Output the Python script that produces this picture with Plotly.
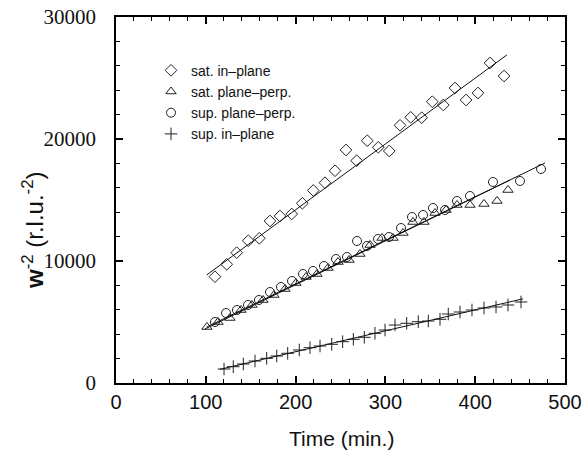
import plotly.graph_objects as go

# ---- data ----
sat_in_t = [110.2, 123.3, 134.4, 147.3, 159.6, 171.5, 182.6, 195.7, 207.5, 219.7, 232.7, 243.9, 256.1, 268.0,
            279.8, 292.1, 304.3, 316.3, 328.2, 340.4, 352.2, 364.5, 377.5, 389.8, 403.1, 416.5, 432.1]
sat_in_w = [8713, 9730, 10681, 11664, 11861, 13279, 13689, 13853, 14730, 15780, 16419, 17402, 19099, 18222,
            19861, 19320, 19017, 21124, 21779, 21747, 23058, 22788, 24181, 23197, 23771, 26230, 25164]

sat_pp_t = [101.3, 113.6, 126.9, 139.2, 151.4, 163.7, 175.9, 188.2, 200.4, 211.6, 223.8, 236.1, 247.2, 259.5,
            271.7, 282.9, 296.2, 308.5, 319.6, 330.7, 343.0, 355.2, 367.5, 379.7, 394.2, 409.8, 424.3, 436.5]
sat_pp_w = [4590, 5000, 5328, 5984, 6394, 6804, 7213, 7705, 8197, 8689, 8935, 9427, 9918, 10082,
            10574, 11312, 11886, 11886, 12296, 13197, 13197, 13935, 14181, 14591, 14591, 14673, 14919, 15820]

sup_pp_t = [110.2, 122.5, 134.7, 147.0, 159.2, 171.5, 183.7, 196.0, 208.2, 219.4, 231.6, 245.0, 257.2, 268.4,
            279.5, 291.8, 304.0, 317.4, 329.6, 341.9, 353.0, 366.4, 379.7, 394.2, 419.8, 449.9, 473.3]
sup_pp_w = [5000, 5738, 5984, 6394, 6804, 7459, 7869, 8361, 8935, 9181, 9590, 10164, 10328, 11640,
            11230, 11804, 11968, 12705, 13607, 13771, 14345, 14181, 14919, 15328, 16476, 16558, 17542]

sup_in_t = [120.3, 130.6, 141.8, 154.8, 167.8, 179.0, 191.2, 204.1, 216.0, 227.2, 240.2, 252.4, 264.3, 276.5,
            288.4, 299.6, 310.7, 323.7, 336.6, 347.8, 360.8, 370.0, 383.1, 396.4, 409.8, 423.2, 436.5, 451.0]
sup_in_w = [1148, 1336, 1557, 1803, 2025, 2213, 2434, 2705, 2894, 3033, 3172, 3385, 3582, 3746,
            4074, 4344, 4754, 4894, 5025, 5082, 5221, 5656, 5820, 5984, 6148, 6230, 6394, 6640]

# straight-line fits, end points
fit_sat_in_t = [101, 435.4]
fit_sat_in_w = [8853, 26900]
fit_sat_pp_t = [99, 438.8]
fit_sat_pp_w = [4426, 16640]
fit_sup_pp_t = [101, 477.7]
fit_sup_pp_w = [4590, 18034]
fit_sup_in_t = [115.8, 453.2]
fit_sup_in_w = [1123, 6900]

legend_labels = ["sat. in–plane", "sat. plane–perp.", "sup. plane–perp.", "sup. in–plane"]
x_ticks = [0, 100, 200, 300, 400, 500]
y_ticks = [0, 10000, 20000, 30000]

series = [
    (sat_in_t, sat_in_w, "diamond-open", legend_labels[0], 9),
    (sat_pp_t, sat_pp_w, "triangle-up-open", legend_labels[1], 9),
    (sup_pp_t, sup_pp_w, "circle-open", legend_labels[2], 9),
    (sup_in_t, sup_in_w, "cross-thin-open", legend_labels[3], 9),
]
fits = [(fit_sat_in_t, fit_sat_in_w), (fit_sat_pp_t, fit_sat_pp_w),
        (fit_sup_pp_t, fit_sup_pp_w), (fit_sup_in_t, fit_sup_in_w)]

fig = go.Figure()
ink = "#222222"
for t, w, sym, name, size in series:
    fig.add_trace(go.Scatter(x=t, y=w, mode="markers", name=name,
                             marker=dict(symbol=sym, size=size, color=ink,
                                         line=dict(width=1, color=ink))))
for ft, fw in fits:
    fig.add_trace(go.Scatter(x=ft, y=fw, mode="lines", showlegend=False,
                             line=dict(color="#111111", width=1), hoverinfo="skip"))

axis_common = dict(showline=True, linecolor="black", linewidth=1.5, mirror="ticks",
                   ticks="inside", tickcolor="black", tickwidth=1.5, ticklen=7,
                   showgrid=False, zeroline=False, automargin=False)

sans = "Liberation Sans, Arial, sans-serif"
fig.update_xaxes(range=[0, 500], tickvals=x_ticks, ticktext=[str(v) for v in x_ticks],
                 tickfont=dict(family=sans, size=20, color="#111"),
                 minor=dict(dtick=20, ticks="inside", ticklen=4, tickcolor="black", tickwidth=1),
                 ticklabelstandoff=0, **axis_common)
fig.update_yaxes(range=[0, 30000], tickvals=y_ticks, ticktext=[str(v) for v in y_ticks],
                 tickfont=dict(family="Liberation Serif, Times New Roman, serif", size=21, color="#111"),
                 minor=dict(dtick=2000, ticks="inside", ticklen=4, tickcolor="black", tickwidth=1),
                 ticklabelstandoff=14, **axis_common)

fig.add_annotation(text="Time (min.)", xref="paper", yref="paper",
                   x=(341 - 116) / 449, y=(383 - 438) / 366, xanchor="center", yanchor="middle",
                   showarrow=False, font=dict(family=sans, size=21, color="#111"))
fig.add_annotation(text="<b>w</b><sup>-2</sup> (r.l.u.<sup>-2</sup>)", textangle=-90,
                   xref="paper", yref="paper", x=(33 - 116) / 449, y=(383 - 230) / 366,
                   xanchor="center", yanchor="middle", showarrow=False,
                   font=dict(family=sans, size=24, color="#111"))

fig.update_layout(
    width=585, height=450,
    margin=dict(l=116, r=20, t=17, b=67, autoexpand=False),
    paper_bgcolor="white", plot_bgcolor="white",
    showlegend=True,
    legend=dict(x=0.078, y=0.897, xanchor="left", yanchor="top", bgcolor="rgba(0,0,0,0)",
                font=dict(family=sans, size=14, color="#111"),
                itemwidth=30, tracegroupgap=0),
)

fig.write_html("out.html", config={"displayModeBar": False},
               post_script="document.body.style.margin='0';document.body.style.overflow='hidden';")
